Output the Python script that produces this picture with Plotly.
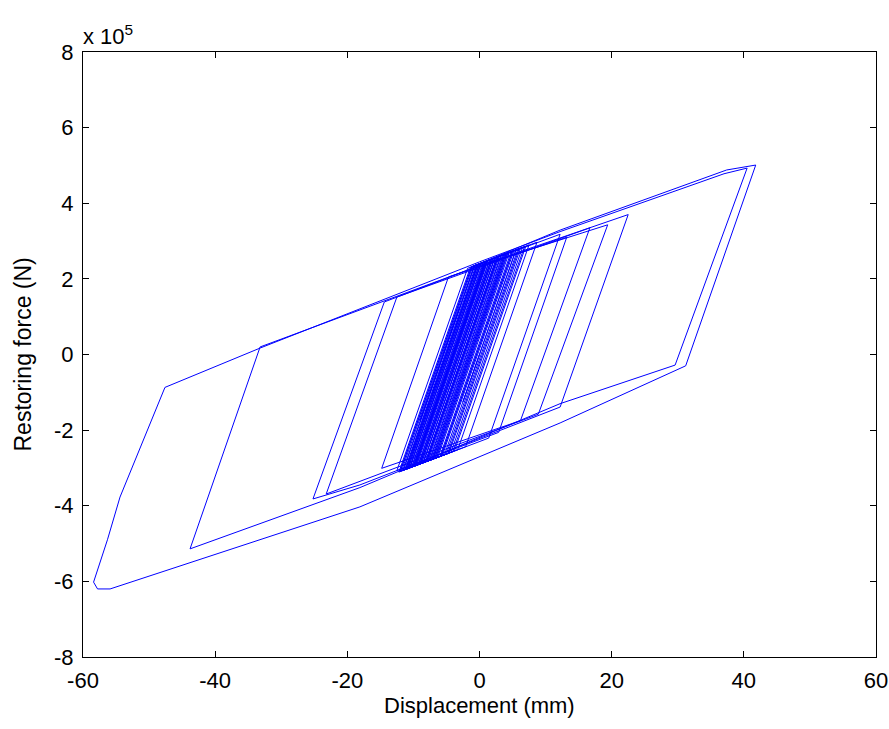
import plotly.graph_objects as go

# Hysteresis path vertices (displacement in mm, force in 1e5 N)
displacement_mm = [
    0.0, 2.5, -2.5, 5.53, 6.5,
    -4.3, -6.5, 4.3, 5.0, -5.8, -8.0, 2.8, 7.5, -3.3, -9.0,
    1.83, 6.8, -4.03, -7.2, 3.63, 6.2, -4.63, -6.8, 4.03, 5.8,
    -5.03, -7.0, 3.83, 5.2, -5.63, -8.8, 2.03, 4.5, -6.33, -9.8,
    1.03, 4.2, -6.63, -10.2, 0.63, 3.8, -7.03, -10.8, 0.03, 2.8,
    -8.03, -11.2, -0.37, 2.3, -8.53, -9.7, 1.13, 1.8, -9.03, -9.9,
    0.93, 1.2, -9.63, -10.6, 0.23, 0.8, -10.03, -11.6, -0.77, 0.0,
    -10.83, -12.2, -1.37, -0.3, -11.13, -12.0, -1.17,
    12.2, 25.0, 37.4, 41.8,
    31.2, 12.2, -18.1, -55.9, -57.8, -58.4,
    -56.3, -54.4, -50.3, -47.6,
    -33.2, 0.0, 12.2, 37.0, 40.5,
    29.6, 12.2, -18.1, -43.8,
    -33.2, 0.0, 22.5,
    12.2, -18.1, -25.2,
    -14.4, 0.0, 19.4,
    8.9, -23.2,
    -12.5, 16.7,
    6.2, -14.8,
    -4.7, 13.2,
    2.9, -12.5,
    -1.8, 12.2,
    1.4, -11.0,
    -0.2, 8.7,
    -2.1, -10.0,
    0.8, 7.0,
    -3.8, -9.5,
    1.3, 6.0,
    -4.8, -8.5,
    2.3, 5.5,
    -5.3, -9.0,
    1.8, 4.8,
    -6.0, -8.0,
    2.8, 4.0,
    -6.8, -7.5,
    3.3, 5.0,
    -5.8, -8.2,
    2.6, 3.5,
    -7.3, -7.8,
    3.0, 3.2,
    -7.6, -8.5,
    2.3, 2.6,
    -8.2, -9.2,
    1.6, 2.0,
    -8.8, -10.0,
    0.8, 1.5,
    -9.3, -10.5,
    0.3, 1.0,
    -9.8, -11.5,
    -0.7, 0.5,
    -10.3, -11.0,
    -0.2, 0.2,
    -10.6, -12.0,
    -1.2, -0.5,
    -11.3, -11.8,
    -1.0, -0.8,
    -9.0, -3.0, -8.0, -5.0, -6.5, -5.5,
]

force_1e5N = [
    0.0, 1.25, -1.25, 2.77, 2.83,
    -2.58, -2.73, 2.68, 2.73, -2.68, -2.83, 2.58, 2.90, -2.52, -2.89,
    2.52, 2.85, -2.57, -2.78, 2.64, 2.81, -2.61, -2.75, 2.67, 2.78,
    -2.63, -2.76, 2.65, 2.74, -2.67, -2.88, 2.53, 2.70, -2.72, -2.95,
    2.47, 2.68, -2.74, -2.97, 2.44, 2.65, -2.76, -3.01, 2.40, 2.58,
    -2.83, -3.04, 2.38, 2.55, -2.86, -2.94, 2.47, 2.52, -2.90, -2.95,
    2.46, 2.48, -2.94, -3.00, 2.42, 2.45, -2.96, -3.07, 2.35, 2.40,
    -3.01, -3.11, 2.31, 2.38, -3.03, -3.09, 2.32,
    3.29, 4.10, 4.88, 5.01,
    -0.30, -1.81, -4.03, -6.20, -6.20, -6.02,
    -4.90, -3.77, -2.00, -0.87,
    0.17, 2.45, 3.25, 4.78, 4.93,
    -0.28, -1.30, -3.52, -5.14,
    0.20, 2.35, 3.70,
    -1.39, -3.45, -3.82,
    1.39, 2.35, 3.43,
    -1.58, -3.69,
    1.52, 3.35,
    -1.75, -3.01,
    2.05, 3.10,
    -2.06, -3.07,
    2.28, 3.18,
    -2.21, -3.03,
    2.39, 2.97,
    -2.44, -2.96,
    2.45, 2.86,
    -2.55, -2.93,
    2.49, 2.80,
    -2.62, -2.86,
    2.55, 2.76,
    -2.65, -2.89,
    2.52, 2.72,
    -2.70, -2.83,
    2.59, 2.66,
    -2.75, -2.80,
    2.62, 2.73,
    -2.68, -2.84,
    2.57, 2.63,
    -2.78, -2.81,
    2.60, 2.61,
    -2.80, -2.86,
    2.55, 2.57,
    -2.84, -2.91,
    2.51, 2.53,
    -2.88, -2.96,
    2.45, 2.50,
    -2.92, -2.99,
    2.42, 2.47,
    -2.95, -3.06,
    2.36, 2.43,
    -2.98, -3.03,
    2.39, 2.41,
    -3.00, -3.09,
    2.32, 2.37,
    -3.05, -3.08,
    2.34, 2.35,
    -1.75, 1.25, -1.25, 0.25, -0.5, 0.0,
]

x_ticks = [-60, -40, -20, 0, 20, 40, 60]
y_ticks = [-8, -6, -4, -2, 0, 2, 4, 6, 8]

FONT = "Liberation Sans, Arial, Helvetica, sans-serif"

fig = go.Figure()
fig.add_trace(go.Scatter(
    x=displacement_mm, y=force_1e5N, mode="lines",
    line=dict(color="#0000FF", width=1),
    hoverinfo="skip", showlegend=False,
))

axis_common = dict(
    showgrid=False, zeroline=False, showline=True, linecolor="black", linewidth=1,
    mirror="ticks", ticks="inside", ticklen=6, tickcolor="black",
    tickfont=dict(family=FONT, size=22, color="black"),
    automargin=False,
)

fig.update_layout(
    width=889, height=729,
    margin=dict(l=83, r=13, t=52, b=72),
    paper_bgcolor="white", plot_bgcolor="white",
    font=dict(family=FONT, color="black"),
    xaxis=dict(range=[-60, 60], tickvals=x_ticks, ticktext=[str(v) for v in x_ticks],
               ticklabelstandoff=4, **axis_common),
    yaxis=dict(range=[-8, 8], tickvals=y_ticks, ticktext=[str(v) for v in y_ticks],
               ticklabelstandoff=4, **axis_common),
    annotations=[
        dict(text="x 10<sup>5</sup>", xref="paper", yref="paper", x=0, y=1,
             xanchor="left", yanchor="bottom", showarrow=False, yshift=1, xshift=-2,
             font=dict(family=FONT, size=22, color="black")),
        dict(text="Displacement (mm)", xref="paper", yref="paper", x=0.5, y=0,
             xanchor="center", yanchor="middle", showarrow=False, yshift=-48,
             font=dict(family=FONT, size=22, color="black")),
        dict(text="Restoring force (N)", xref="paper", yref="paper", x=0, y=0.5,
             xanchor="center", yanchor="middle", showarrow=False, xshift=-61,
             textangle=-90, font=dict(family=FONT, size=23, color="black")),
    ],
)

fig.write_html(
    "out.html",
    config={"displayModeBar": False, "staticPlot": True},
    post_script="document.body.style.margin='0';document.body.style.overflow='hidden';",
)
